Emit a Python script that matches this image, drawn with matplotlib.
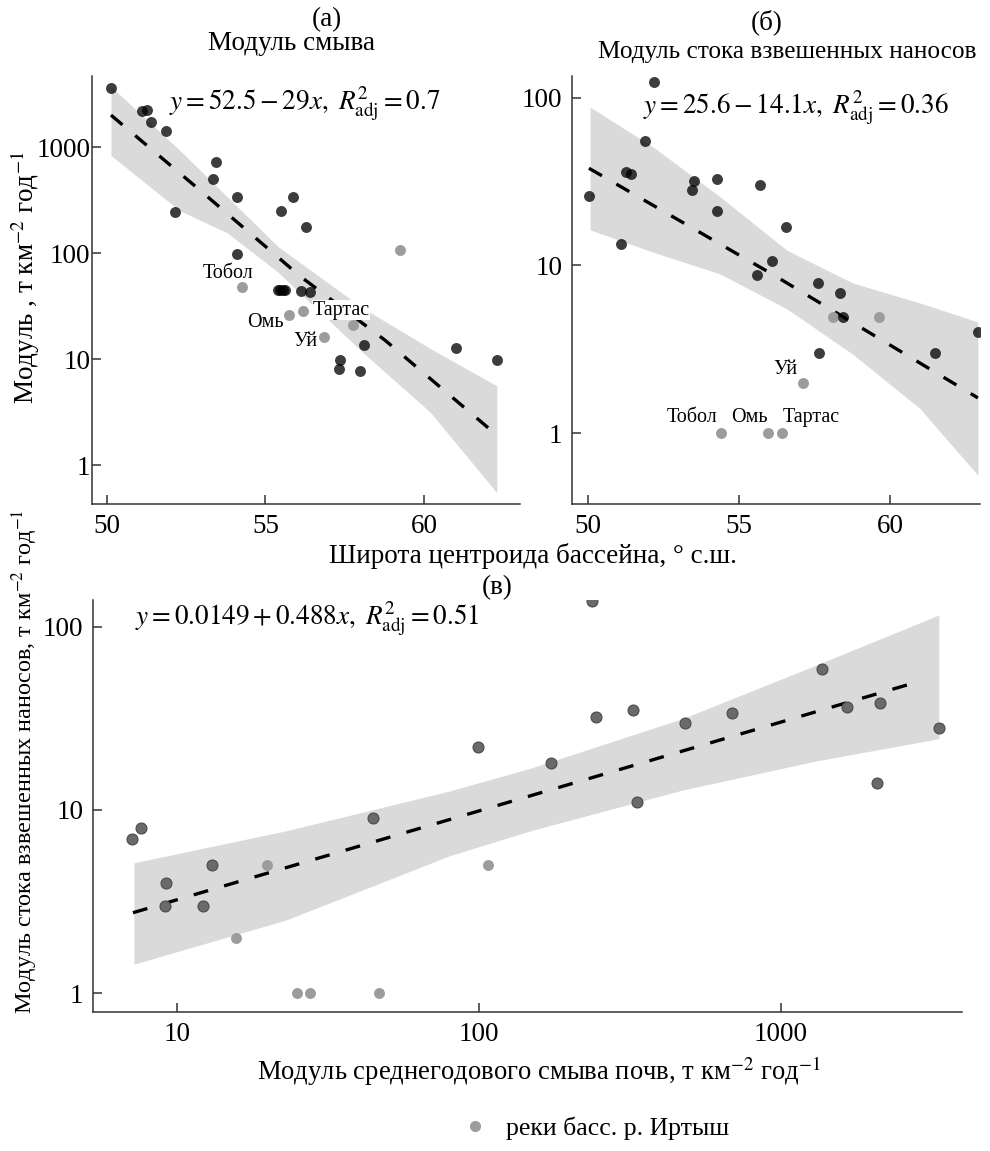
import numpy as np
import matplotlib
matplotlib.use('Agg')
import matplotlib.pyplot as plt
from matplotlib.ticker import FixedLocator, FixedFormatter, NullLocator
from matplotlib.lines import Line2D

plt.rcParams['font.family'] = ['Liberation Serif', 'DejaVu Serif']
plt.rcParams['mathtext.fontset'] = 'stix'

# (а) модуль смыва ~ широта
a_lat_dark = [50.13, 51.1, 51.26, 51.4, 51.86, 52.15, 53.43, 53.35, 54.1, 54.1,
              55.49, 55.87, 56.28, 55.39, 55.47, 55.55, 55.62, 56.12, 56.4,
              58.1, 57.35, 57.32, 58.0, 61.0, 62.3]
a_val_dark = [3600, 2190, 2230, 1720, 1415, 244, 722, 499, 338, 98,
              250, 340, 176, 45, 45, 45, 45, 44, 43,
              13.5, 9.8, 8.05, 7.7, 12.7, 9.8]
a_lat_gray = [59.24, 54.26, 56.18, 55.74, 56.85, 57.76]
a_val_gray = [107, 47.6, 28.4, 26, 16.2, 21]
a_names = ['', 'Тобол', 'Тартас', 'Омь', 'Уй', '']
a_line_lat = [50.13, 52.93, 56.09, 58.77, 62.3]
a_line_val = [2000, 393, 60.7, 15.1, 1.92]
a_band_lat = [50.13, 52.3, 53.8, 55.4, 58.08, 60.2, 62.3]
a_band_hi = [3715, 933, 339, 115, 30.2, 12.6, 5.6]
a_band_lo = [832, 251, 155, 66, 11.5, 3.16, 0.55]

# (б) модуль стока взвешенных наносов ~ широта
b_lat_dark = [52.19, 51.89, 51.26, 51.42, 50.03, 53.51, 53.44, 54.27, 54.27, 55.7,
              56.56, 51.09, 56.09, 55.6, 57.62, 58.34, 58.44, 62.91, 61.49, 57.65]
b_val_dark = [125, 55, 36, 35, 26, 32, 28, 33, 21, 30,
              17, 13.4, 10.6, 8.8, 7.85, 6.85, 4.9, 4.0, 3.0, 3.0]
b_lat_gray = [58.11, 59.64, 57.12, 54.4, 55.96, 56.42]
b_val_gray = [4.9, 4.9, 2.0, 1.0, 1.0, 1.0]
b_names = ['', '', 'Уй', 'Тобол', 'Омь', 'Тартас']
b_line_lat = [50.03, 56.13, 62.91]
b_line_val = [38, 8.8, 1.62]
b_band_lat = [50.07, 52.15, 54.37, 56.59, 58.77, 60.99, 62.91]
b_band_hi = [88, 51, 25.7, 12.3, 7.85, 5.97, 4.6]
b_band_lo = [16.3, 12.0, 8.9, 5.5, 2.95, 1.4, 0.56]

# (в) сток наносов ~ смыв
c_x_dark = [99, 44.6, 7.6, 237, 1368, 1652, 2128, 3337, 2080, 244,
            324, 481, 689, 173, 333, 7.1, 13.1, 9.2, 9.1, 12.2]
c_y_dark = [22, 9.06, 8.0, 138, 59, 36.7, 38.6, 27.9, 14, 32,
            35, 30, 34, 18, 11, 6.95, 5.0, 4.0, 3.0, 3.0]
c_x_gray = [19.9, 107, 15.7, 25, 27.5, 46.7]
c_y_gray = [5, 5, 2, 1, 1, 1]
c_line_x = [7.15, 2950]
c_line_y = [2.75, 51]
c_band_x = [7.2, 23, 80, 148, 474, 1315, 3337]
c_band_hi = [5.15, 7.7, 12.7, 16.9, 31.6, 62, 116]
c_band_x2 = [7.2, 21.9, 60, 148, 333, 1016, 3337]
c_band_lo = [1.44, 2.4, 4.66, 7.7, 11, 16.9, 24.5]

DARK = 'black'
GRAY = '#9c9c9c'
BAND = '#dadada'
FS = 19.5

fig = plt.figure(figsize=(9.9, 11.51), dpi=100)
ax_a = fig.add_axes([0.0929, 0.5621, 0.4323, 0.3719])
ax_b = fig.add_axes([0.5778, 0.5621, 0.4121, 0.3719])
ax_c = fig.add_axes([0.0939, 0.1208, 0.8778, 0.3579])


def style(ax, yticks, xticks, ypad=7):
    for s in ['top', 'right']:
        ax.spines[s].set_visible(False)
    for s in ['left', 'bottom']:
        ax.spines[s].set_linewidth(1.1)
        ax.spines[s].set_color('#333333')
    ax.yaxis.set_major_locator(FixedLocator(yticks))
    ax.yaxis.set_major_formatter(FixedFormatter([str(t) for t in yticks]))
    ax.yaxis.set_minor_locator(NullLocator())
    ax.xaxis.set_major_locator(FixedLocator(xticks))
    ax.xaxis.set_major_formatter(FixedFormatter([str(t) for t in xticks]))
    ax.xaxis.set_minor_locator(NullLocator())
    ax.tick_params(direction='in', length=6.5, width=1.1, color='#333333',
                   labelsize=FS, pad=7)
    ax.tick_params(axis='y', pad=ypad)


def panel(ax, blat, bhi, blo, llat, lval, glat, gval, dlat, dval):
    ax.fill_between(blat, blo, bhi, color=BAND, lw=0, zorder=1)
    ax.plot(llat, lval, color='black', lw=2.4, dashes=(4.5, 5.0), zorder=2)
    ax.scatter(glat, gval, s=62, color=GRAY, lw=0, zorder=3)
    ax.scatter(dlat, dval, s=62, color=DARK, alpha=0.76, lw=0, zorder=4)
    ax.set_yscale('log')


# (а)
panel(ax_a, a_band_lat, a_band_hi, a_band_lo, a_line_lat, a_line_val,
      a_lat_gray, a_val_gray, a_lat_dark, a_val_dark)
ax_a.set_xlim(49.53, 63.03)
ax_a.set_ylim(0.43, 4680)
style(ax_a, [1, 10, 100, 1000], [50, 55, 60], ypad=1)
a_off = {'Тобол': (-14, 14), 'Тартас': (38, 1), 'Омь': (-23, -7), 'Уй': (-19, -5)}
for la, v, n in zip(a_lat_gray, a_val_gray, a_names):
    if n:
        t = ax_a.annotate(n, (la, v), xytext=a_off[n], textcoords='offset pixels',
                          ha='center', va='center', fontsize=14.5, zorder=5)
        if n == 'Тартас':
            t.set_bbox(dict(facecolor='white', edgecolor='none', pad=0.5))
ax_a.text(0.18, 0.935, r'$y = 52.5 - 29x,\ R^2_{\mathrm{adj}} = 0.7$',
          transform=ax_a.transAxes, fontsize=FS, va='center', ha='left')

# (б)
panel(ax_b, b_band_lat, b_band_hi, b_band_lo, b_line_lat, b_line_val,
      b_lat_gray, b_val_gray, b_lat_dark, b_val_dark)
ax_b.set_xlim(49.47, 62.98)
ax_b.set_ylim(0.377, 135)
style(ax_b, [1, 10, 100], [50, 55, 60])
b_off = {'Тобол': (-29, 16), 'Омь': (-19, 16), 'Тартас': (29, 16), 'Уй': (-18, 13)}
for la, v, n in zip(b_lat_gray, b_val_gray, b_names):
    if n:
        ax_b.annotate(n, (la, v), xytext=b_off[n], textcoords='offset pixels',
                      ha='center', va='center', fontsize=14.5, zorder=5)
ax_b.text(0.175, 0.925, r'$y = 25.6 - 14.1x,\ R^2_{\mathrm{adj}} = 0.36$',
          transform=ax_b.transAxes, fontsize=FS, va='center', ha='left')

# (в)
ax_c.fill_between(c_band_x, c_band_hi, np.interp(np.log10(c_band_x), np.log10(c_band_x2), c_band_lo),
                  color=BAND, lw=0, zorder=1)
ax_c.plot(c_line_x, c_line_y, color='black', lw=2.4, dashes=(4.5, 5.0), zorder=2)
ax_c.scatter(c_x_gray, c_y_gray, s=62, color=GRAY, lw=0, zorder=3)
ax_c.scatter(c_x_dark, c_y_dark, s=62, color='#6a6a6a', edgecolor='#4a4a4a', lw=0.8, zorder=4)
ax_c.set_xscale('log')
ax_c.set_yscale('log')
ax_c.set_xlim(5.27, 3980)
ax_c.set_ylim(0.79, 140)
style(ax_c, [1, 10, 100], [10, 100, 1000])
ax_c.text(0.048, 0.955, r'$y = 0.0149 + 0.488x,\ R^2_{\mathrm{adj}} = 0.51$',
          transform=ax_c.transAxes, fontsize=FS, va='center', ha='left')

# подписи
fig.text(327 / 990, 1 - 20 / 1151, '(а)', ha='center', va='center', fontsize=FS)
fig.text(292 / 990, 1 - 44 / 1151, 'Модуль смыва', ha='center', va='center', fontsize=FS)
fig.text(767 / 990, 1 - 22 / 1151, '(б)', ha='center', va='center', fontsize=FS)
fig.text(787 / 990, 1 - 52 / 1151, 'Модуль стока взвешенных наносов', ha='center',
         va='center', fontsize=18.2)
fig.text(533 / 990, 1 - 556 / 1151, 'Широта центроида бассейна, ° с.ш.', ha='center',
         va='center', fontsize=FS)
fig.text(497 / 990, 1 - 588 / 1151, '(в)', ha='center', va='center', fontsize=FS)
fig.text(25 / 990, 1 - 278 / 1151, r'Модуль , т км$^{-2}$ год$^{-1}$', rotation=90,
         ha='center', va='center', fontsize=FS)
fig.text(25 / 990, 1 - 762 / 1151, r'Модуль стока взвешенных наносов, т км$^{-2}$ год$^{-1}$',
         rotation=90, ha='center', va='center', fontsize=17.5)
fig.text(539 / 990, 1 - 1071 / 1151, r'Модуль среднегодового смыва почв, т км$^{-2}$ год$^{-1}$',
         ha='center', va='center', fontsize=19.2)

h = Line2D([], [], marker='o', ls='', color=GRAY, markersize=7)
fig.legend([h], ['реки басс. р. Иртыш'], loc='center', bbox_to_anchor=(0.595, 1 - 1128 / 1151),
           frameon=False, fontsize=18.5, handletextpad=0.2, borderpad=0)

fig.savefig('out.png', dpi=100)
